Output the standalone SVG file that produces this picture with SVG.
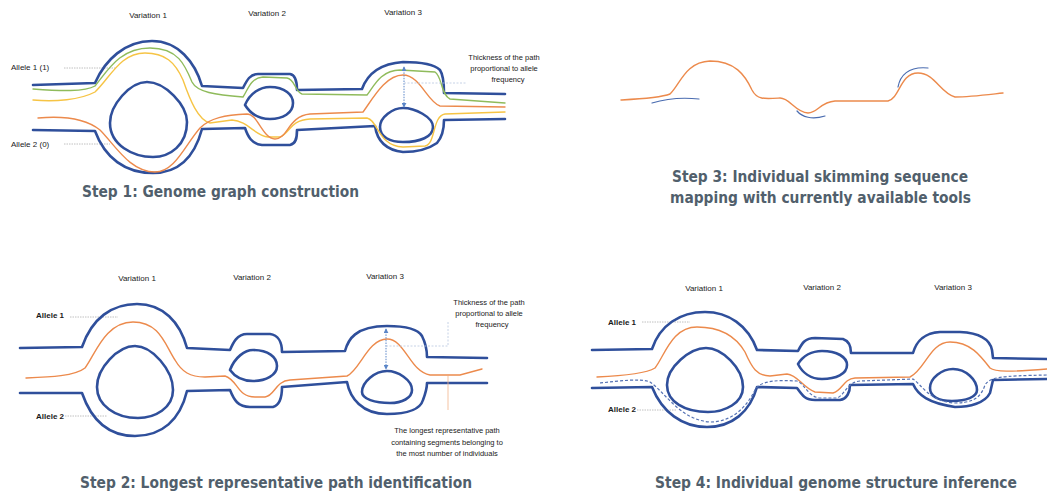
<svg xmlns="http://www.w3.org/2000/svg" width="1047" height="495" viewBox="0 0 1047 495">
<style>
.bg{fill:#ffffff}
.blue{fill:none;stroke:#2f4f9b;stroke-width:2.6;stroke-linejoin:round;stroke-linecap:round}
.org{fill:none;stroke:#ec8a4c;stroke-width:1.4;stroke-linecap:round}
.grn{fill:none;stroke:#8fbb5b;stroke-width:1.4;stroke-linecap:round}
.yel{fill:none;stroke:#f6c445;stroke-width:1.4;stroke-linecap:round}
.read{fill:none;stroke:#4a6cb0;stroke-width:1.2;stroke-linecap:round}
.dash{fill:none;stroke:#5572b4;stroke-width:1.2;stroke-dasharray:3 2}
.lead{fill:none;stroke:#b0b0b0;stroke-width:0.8;stroke-dasharray:1.5 1}
.arr{fill:none;stroke:#5b86c8;stroke-width:1;stroke-dasharray:1.5 1.2}
.guide{fill:none;stroke:#b8c6e0;stroke-width:0.8;stroke-dasharray:2 1.5}
.oguide{fill:none;stroke:#f2b48a;stroke-width:0.8}
.lbl{font-family:"Liberation Sans",Arial,sans-serif;font-size:8px;fill:#1a1a1a}
.sm{font-family:"Liberation Sans",Arial,sans-serif;font-size:7.5px;fill:#1a1a1a}
.b{font-weight:bold}
.title{font-family:"DejaVu Sans",Verdana,sans-serif;font-stretch:condensed;font-weight:bold;font-size:16.5px;fill:#515f6c}
</style>
<defs>
<marker id="ah" viewBox="0 0 6 6" refX="5" refY="3" markerWidth="5" markerHeight="5" orient="auto-start-reverse">
<path d="M0,0 L6,3 L0,6 Z" fill="#5b86c8"/>
</marker>
</defs>
<rect class="bg" x="0" y="0" width="1047" height="495"/>

<g id="step1">
<text class="lbl" x="148" y="18" text-anchor="middle">Variation 1</text>
<text class="lbl" x="267" y="16" text-anchor="middle">Variation 2</text>
<text class="lbl" x="403" y="15" text-anchor="middle">Variation 3</text>
<text class="lbl" x="11" y="70">Allele 1 (1)</text>
<text class="lbl" x="11" y="147">Allele 2 (0)</text>
<path class="lead" d="M64,68 L115,68"/>
<path class="lead" d="M64,144 L110,144"/>
<path class="blue" d="M33,85 L95,83 C105,60 125,41 152,41 C178,41 195,62 202,86 L243,88 C247,80 250,74 258,74 L290,74 C296,75 297,82 297,90 L362,89 C366,78 375,64 403,62 C420,62 434,64 440,70 C444,76 444,85 444,93 L505,94"/>
<path class="blue" d="M33,130 L95,131 C105,158 125,173 153,173 C180,173 195,155 202,129 L245,128 C248,137 252,144 262,145 L290,145 C296,144 297,138 297,130 L375,126 C377,140 385,150 403,152 C420,152 430,148 437,143 C443,136 444,128 444,120 L505,119"/>
<path class="blue" d="M147,82 C165,82 187,105 187,122 C187,145 170,157 153,157 C133,157 110,145 110,123 C110,105 130,82 147,82 Z"/>
<path class="blue" d="M245,105 C250,93 260,87 270,87 C285,87 293,95 293,103 C293,113 283,119 270,119 C258,119 250,113 245,105 Z"/>
<path class="blue" d="M403,108 C415,108 433,117 433,127 C433,137 420,142 403,142 C390,142 380,137 380,127 C380,117 393,108 403,108 Z"/>
<path class="grn" d="M33,89 C60,91 85,92 95,86 C108,70 120,48 150,48 C178,48 185,65 192,82 C197,92 215,95 243,97 C248,90 250,78 263,77 L287,78 C295,79 295,92 302,94 L367,95 C373,88 380,70 400,70 L435,72 C442,76 441,95 450,99 L505,103"/>
<path class="yel" d="M33,100 C55,102 80,100 95,92 C110,78 120,53 145,53 C165,53 175,62 183,80 C190,100 198,120 210,123 L232,120 C248,121 255,136 268,137 L280,137 C290,133 290,120 310,119 L367,118 C378,120 378,146 403,147 L425,146 C436,144 432,116 445,114 L505,112"/>
<path class="org" d="M38,118 C60,116 85,118 100,130 C115,145 130,172 155,172 C175,172 185,145 200,128 C210,118 225,115 247,114 C258,114 262,138 275,139 C288,139 288,116 310,114 L363,112 C372,100 385,75 403,75 C420,75 428,103 440,106 L505,107"/>
<path class="arr" d="M404,67 L404,107" marker-start="url(#ah)" marker-end="url(#ah)"/>
<path class="guide" d="M404,83 L467,83"/>
<text class="sm" x="504" y="60" text-anchor="middle">Thickness of the path</text>
<text class="sm" x="504" y="71" text-anchor="middle">proportional to allele</text>
<text class="sm" x="508" y="82" text-anchor="middle">frequency</text>
<text class="title" x="82" y="197" textLength="277" lengthAdjust="spacingAndGlyphs">Step 1: Genome graph construction</text>
</g>

<g id="step3">
<path class="org" stroke-width="1.6" d="M621,100 C640,99 660,98 670,94 C680,85 685,62 710,61 C735,61 745,75 752,90 C757,100 765,99 780,98 C790,98 795,112 808,113 C818,113 820,102 835,101 L888,101 C900,98 900,73 918,73 C935,73 940,93 955,97 C970,97 985,95 1003,93"/>
<path class="read" d="M652,103 C665,99 680,97 699,99"/>
<path class="read" d="M797,111 C802,117 812,120 825,116"/>
<path class="read" d="M898,87 C900,76 908,66 928,68"/>
<text class="title" x="672" y="182" textLength="296" lengthAdjust="spacingAndGlyphs">Step 3: Individual skimming sequence</text>
<text class="title" x="670" y="203" textLength="301" lengthAdjust="spacingAndGlyphs">mapping with currently available tools</text>
</g>

<g id="step2">
<text class="lbl" x="137" y="281" text-anchor="middle">Variation 1</text>
<text class="lbl" x="252" y="280" text-anchor="middle">Variation 2</text>
<text class="lbl" x="385" y="279" text-anchor="middle">Variation 3</text>
<text class="lbl b" x="36" y="318">Allele 1</text>
<text class="lbl b" x="36" y="419">Allele 2</text>
<path class="lead" d="M70,317 L118,317"/>
<path class="lead" d="M65,416 L107,416"/>
<path class="blue" d="M20,348 L82,347 C92,318 112,304 137,304 C163,304 180,322 187,348 L230,350 C233,343 237,334 247,334 L270,334 C278,335 282,342 282,352 L345,351 C348,340 355,326 387,326 C405,326 418,329 422,336 C426,344 427,352 427,357 L487,358"/>
<path class="blue" d="M20,393 L82,393 C92,422 110,436 135,436 C162,436 180,420 187,391 L230,390 C234,400 238,407 250,407 L273,407 C280,405 282,398 282,387 L347,382 C350,398 362,414 387,414 C408,414 420,410 423,400 C426,392 427,388 427,383 L487,383"/>
<path class="blue" d="M135,346 C152,346 173,370 173,390 C173,408 155,418 138,418 C115,418 97,405 97,387 C97,368 118,346 135,346 Z"/>
<path class="blue" d="M230,370 C235,357 245,350 253,350 C268,350 277,357 277,366 C277,375 266,381 253,381 C243,381 235,377 230,370 Z"/>
<path class="blue" d="M387,371 C398,371 412,380 412,390 C412,398 402,403 390,403 C375,403 362,399 362,392 C362,382 375,371 387,371 Z"/>
<path class="org" d="M26,378 C50,377 75,376 85,368 C95,355 105,322 133,322 C160,322 165,345 175,360 C182,372 190,377 205,377 L225,376 C238,380 237,397 255,397 L265,397 C275,396 275,381 290,380 L347,376 C360,370 368,339 387,339 C405,339 410,372 430,375 L460,375 L482,369"/>
<path class="arr" d="M386,329 L386,369" marker-start="url(#ah)" marker-end="url(#ah)"/>
<path class="guide" d="M386,346 L448,346 L448,322"/>
<path class="oguide" d="M448,376 L448,410"/>
<text class="sm" x="489" y="305" text-anchor="middle">Thickness of the path</text>
<text class="sm" x="489" y="316" text-anchor="middle">proportional to allele</text>
<text class="sm" x="492" y="327" text-anchor="middle">frequency</text>
<text class="sm" x="447" y="433" text-anchor="middle">The longest representative path</text>
<text class="sm" x="447" y="445" text-anchor="middle">containing segments belonging to</text>
<text class="sm" x="447" y="456" text-anchor="middle">the most number of individuals</text>
<text class="title" x="80" y="488" textLength="392" lengthAdjust="spacingAndGlyphs">Step 2: Longest representative path identification</text>
</g>

<g id="step4">
<text class="lbl" x="704" y="291" text-anchor="middle">Variation 1</text>
<text class="lbl" x="822" y="290" text-anchor="middle">Variation 2</text>
<text class="lbl" x="953" y="290" text-anchor="middle">Variation 3</text>
<text class="lbl b" x="608" y="325">Allele 1</text>
<text class="lbl b" x="608" y="412">Allele 2</text>
<path class="lead" d="M642,322 L690,322"/>
<path class="lead" d="M637,410 L677,410"/>
<path class="blue" d="M592,350 L652,349 C660,325 680,312 705,312 C728,312 748,325 757,350 L798,351 C802,343 805,338 815,338 L843,339 C849,341 851,347 851,353 L913,353 C916,343 922,333 940,332 L960,332 C980,333 990,340 992,350 L993,358 L1047,359"/>
<path class="blue" d="M592,388 L652,387 C662,412 682,427 707,427 C732,427 750,412 757,387 L797,388 C802,395 805,400 815,400 L840,400 C847,399 850,392 850,385 L913,384 C918,395 928,403 955,407 C970,407 985,403 990,393 L993,380 L1047,379"/>
<path class="blue" d="M706,348 C722,348 743,368 743,387 C743,403 725,412 708,412 C685,412 667,402 667,385 C667,367 690,348 706,348 Z"/>
<path class="blue" d="M798,364 C803,356 812,351 822,351 C837,351 847,357 847,365 C847,374 836,379 822,379 C810,379 802,372 798,364 Z"/>
<path class="blue" d="M953,369 C966,369 977,380 977,390 C977,397 966,401 952,401 C938,401 930,396 930,388 C930,378 942,369 953,369 Z"/>
<path class="org" d="M597,377 C620,376 645,374 655,368 C665,355 672,327 697,327 C720,327 735,335 745,352 C752,368 757,376 770,376 L787,374 C798,375 803,388 815,392 L833,393 C843,390 843,379 855,378 L910,377 C925,370 930,342 950,342 C970,342 980,355 990,368 C995,372 1010,372 1047,369"/>
<path class="dash" d="M600,383 C620,381 640,378 650,382 C665,392 680,420 710,422 C730,422 745,410 755,390 C760,380 780,380 797,381 C805,384 808,397 820,398 L837,398 C845,395 847,382 860,381 L913,379 C922,385 928,400 953,403 C970,403 980,400 985,385 C990,377 1000,376 1047,375"/>
<text class="title" x="1017" y="488" text-anchor="end" textLength="362" lengthAdjust="spacingAndGlyphs">Step 4: Individual genome structure inference</text>
</g>
</svg>
